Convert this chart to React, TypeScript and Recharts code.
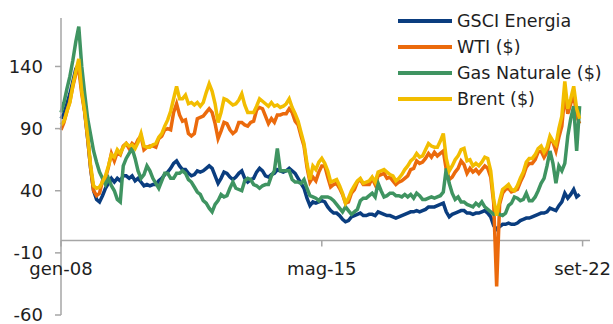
import { LineChart, Line, XAxis, YAxis, ReferenceLine, Legend } from 'recharts';

// monthly readings, gen-08 .. ago-22
const gsci = [
  98, 102, 110, 118, 128, 138, 142, 122, 104, 82, 58, 40,
  33, 31, 36, 42, 46, 50, 47, 50, 48, 52, 52, 50,
  52, 48, 50, 47, 44, 45, 44, 45, 45, 48, 50, 53,
  55, 58, 62, 64, 60, 57, 57, 54, 52, 53, 56, 55,
  56, 58, 60, 58, 52, 46, 50, 55, 54, 51, 49, 51,
  54, 56, 50, 47, 49, 50, 55, 58, 56, 52, 51, 53,
  54, 57, 56, 55, 56, 58, 56, 54, 50, 46, 42, 34,
  28, 31, 30, 31, 32, 31, 27, 24, 22, 22, 20, 17,
  15, 16, 19, 20, 21, 22, 20, 20, 21, 21, 20, 23,
  22, 21, 20, 20, 19, 18, 19, 20, 21, 22, 23, 23,
  24, 23, 24, 25, 27, 27, 27, 28, 29, 30, 23, 19,
  21, 22, 23, 24, 24, 22, 22, 21, 22, 22, 23, 24,
  22, 19, 12, 9, 11, 13, 13, 14, 13, 13, 14, 16,
  17, 18, 18, 19, 20, 21, 22, 22, 23, 26, 25, 24,
  28, 31, 38, 34, 37, 41, 35, 37,
];

const wti = [
  89, 95, 104, 112, 124, 134, 138, 118, 103, 82, 58, 40,
  36, 38, 48, 50, 59, 70, 64, 71, 69, 76, 78, 74,
  78, 76, 81, 84, 73, 75, 76, 76, 75, 82, 84, 89,
  90, 89, 103, 110, 101, 96, 97, 86, 84, 86, 98, 99,
  100, 103, 106, 103, 94, 82, 88, 95, 94, 89, 86, 88,
  95, 95, 93, 92, 95, 96, 105, 107, 106, 100, 94, 98,
  95, 101, 101, 102, 102, 106, 103, 96, 93, 84, 76, 59,
  47, 51, 48, 55, 60, 60, 51, 43, 45, 46, 42, 37,
  30, 31, 38, 41, 47, 49, 45, 45, 45, 50, 45, 52,
  53, 54, 50, 51, 48, 45, 47, 48, 50, 52, 57, 58,
  64, 62, 63, 66, 70, 67, 71, 68, 70, 72, 57, 49,
  51, 55, 58, 64, 61, 54, 58, 55, 57, 54, 57, 60,
  58, 51, 30, -37, 29, 38, 41, 42, 39, 40, 41, 47,
  52, 59, 62, 62, 65, 71, 72, 67, 71, 81, 79, 72,
  83, 92, 118, 102, 110, 118, 100, 94,
];

const gas = [
  103, 111, 122, 132, 145, 160, 172, 140, 118, 98, 85, 72,
  63, 55, 50, 45, 50, 44, 40, 33, 31, 60, 66, 70,
  74, 66, 56, 50, 53, 60, 56, 50, 46, 42, 48, 54,
  54, 50, 50, 54, 54, 56, 54, 49, 47, 43, 39, 37,
  32, 30, 26, 23, 29, 32, 37, 35, 36, 42, 47, 42,
  41, 40, 48, 50, 49, 45, 44, 42, 44, 45, 45, 52,
  56, 74, 56, 56, 56, 56, 49, 47, 47, 46, 49, 42,
  36, 35, 34, 32, 35, 35, 35, 34, 32, 29, 26, 23,
  27, 24, 21, 23, 25, 32, 34, 34, 36, 38, 35, 46,
  40, 35, 36, 38, 38, 36, 36, 35, 37, 35, 37, 34,
  38, 36, 33, 33, 34, 35, 34, 35, 36, 39, 58, 46,
  38, 33, 35, 31, 31, 29, 28, 27, 30, 28, 31, 27,
  25, 23, 21, 21, 21, 20, 22, 28, 30, 35, 34, 32,
  33, 38, 32, 32, 35, 40, 46, 50, 60, 72, 62, 46,
  60, 56, 62, 84, 98, 108, 72, 108,
];

const brent = [
  93, 96, 104, 111, 125, 136, 146, 120, 104, 84, 60, 44,
  42, 43, 47, 52, 60, 69, 67, 73, 70, 75, 78, 76,
  77, 74, 79, 86, 76, 75, 75, 77, 78, 83, 86, 92,
  97, 104, 114, 124, 114, 114, 117, 110, 111, 109, 111, 108,
  111, 119, 126, 120, 110, 95, 103, 114, 113, 111, 109, 110,
  113, 118, 109, 103, 103, 103, 108, 114, 112, 110, 108, 111,
  108, 109, 107, 108, 110, 114, 107, 102, 96, 87, 78, 62,
  49, 60, 57, 63, 66, 62, 56, 47, 48, 49, 44, 38,
  30, 34, 40, 44, 48, 50, 46, 47, 48, 51, 47, 55,
  56, 57, 55, 53, 52, 48, 50, 53, 57, 60, 64, 66,
  70, 67, 68, 73, 78, 76, 75, 75, 80, 86, 66, 56,
  60, 65, 68, 73, 74, 64, 65, 60, 62, 60, 63, 67,
  66, 56, 33, 20, 32, 41, 43, 45, 41, 40, 44, 50,
  55, 63, 66, 66, 69, 74, 76, 71, 75, 84, 80, 77,
  90, 100, 128, 106, 114, 124, 106, 98,
];

const xTicks = [0, 88, 176];
const xTickLabels = ['gen-08', 'mag-15', 'set-22'];
const yTicks = [-60, -10, 40, 90, 140];

const series = [
  { key: 'gsci', name: 'GSCI Energia', color: '#0a3d7f' },
  { key: 'wti', name: 'WTI ($)', color: '#eb6a0c' },
  { key: 'gas', name: 'Gas Naturale ($)', color: '#3f9461' },
  { key: 'brent', name: 'Brent ($)', color: '#f2bd00' },
];

const data = gsci.map((v, i) => ({ m: i, gsci: v, wti: wti[i], gas: gas[i], brent: brent[i] }));

const FONT = 'DejaVu Sans';
const AXIS = '#a6a6a6';
const TEXT = '#1e1e1e';
const Y_MIN = -60;
const Y_MAX = 179;
const PLOT_H = 297;
// x axis crosses at 0, not at the bottom
const ZERO_UP = (PLOT_H * (0 - Y_MIN)) / (Y_MAX - Y_MIN);

function XTick(props: any) {
  const { x, y, payload } = props;
  const y0 = y - ZERO_UP;
  const label = xTickLabels[xTicks.indexOf(payload.value)];
  return (
    <g>
      <line x1={x} x2={x} y1={y0} y2={y0 + 6} stroke={AXIS} strokeWidth={1.5} />
      <text x={x} y={y0 + 35} textAnchor="middle" fontSize={18} fill={TEXT} fontFamily={FONT}>
        {label}
      </text>
    </g>
  );
}

function LegendBox() {
  return (
    <div style={{ fontFamily: FONT }}>
      {series.map((s) => (
        <div key={s.key} style={{ display: 'flex', alignItems: 'center', height: 26 }}>
          <div style={{ width: 54, height: 4, background: s.color, marginRight: 5 }} />
          <span style={{ fontSize: 17.5, color: TEXT, whiteSpace: 'nowrap' }}>{s.name}</span>
        </div>
      ))}
    </div>
  );
}

export default function App() {
  return (
    <div style={{ position: 'absolute', left: 0, top: 0, background: '#fff' }}>
      <LineChart
        width={613}
        height={324}
        data={data}
        margin={{ top: 18, right: 23, left: 0, bottom: 8 }}
        style={{ fontFamily: FONT }}
      >
        <XAxis
          dataKey="m"
          type="number"
          domain={[0, 178.5]}
          ticks={xTicks}
          height={1}
          tickSize={0}
          tickMargin={0}
          axisLine={false}
          tickLine={false}
          tick={<XTick />}
          interval={0}
        />
        <YAxis
          domain={[Y_MIN, Y_MAX]}
          ticks={yTicks}
          interval={0}
          width={61}
          tickSize={6}
          tickMargin={12}
          axisLine={{ stroke: AXIS, strokeWidth: 1.5 }}
          tickLine={{ stroke: AXIS, strokeWidth: 1.5 }}
          tick={{ fill: TEXT, fontSize: 18, fontFamily: FONT }}
          allowDataOverflow
        />
        <ReferenceLine y={0} stroke={AXIS} strokeWidth={1.5} />
        {series.map((s) => (
          <Line
            key={s.key}
            dataKey={s.key}
            name={s.name}
            type="linear"
            stroke={s.color}
            strokeWidth={3.5}
            dot={false}
            isAnimationActive={false}
          />
        ))}
        <Legend
          layout="vertical"
          align="center"
          verticalAlign="middle"
          content={() => <LegendBox />}
          wrapperStyle={{ top: 8, left: 398, width: 215, height: 104 }}
        />
      </LineChart>
    </div>
  );
}
